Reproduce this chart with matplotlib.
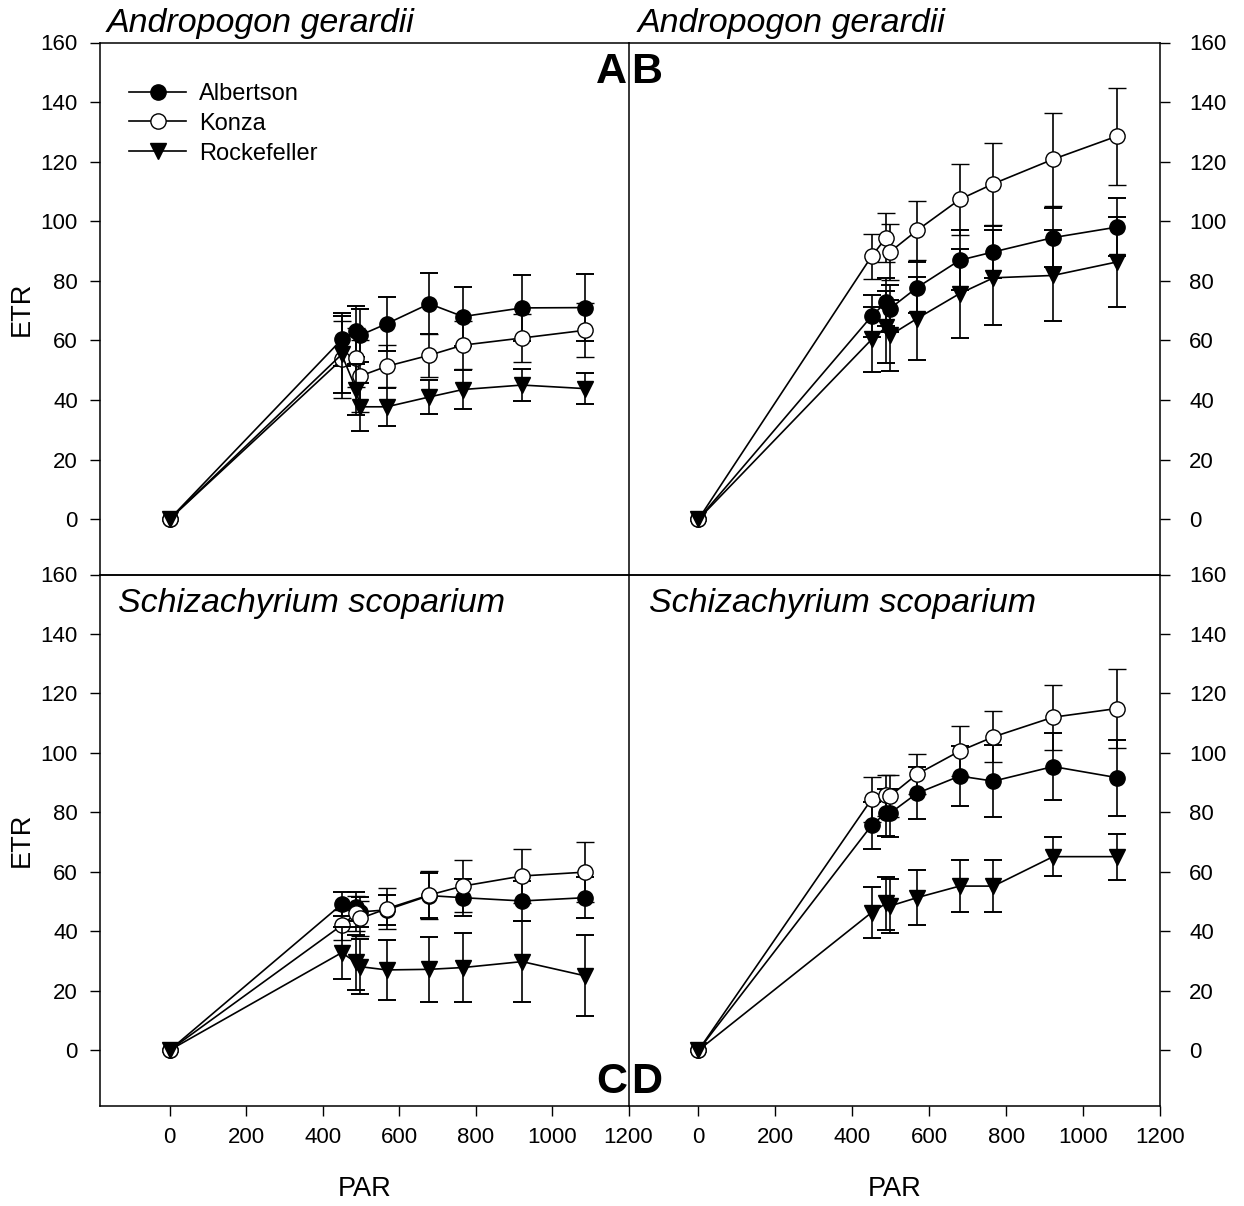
import matplotlib
matplotlib.use("Agg")
import matplotlib.pyplot as plt
from matplotlib.lines import Line2D

plt.rcParams['font.family'] = ['Liberation Sans', 'DejaVu Sans']

PAR = [0, 450, 488, 498, 568, 679, 767, 922, 1087]
series_names = ["Albertson", "Konza", "Rockefeller"]
panel_titles = ["Andropogon gerardii", "Andropogon gerardii",
                "Schizachyrium scoparium", "Schizachyrium scoparium"]
panel_letters = ["A", "B", "C", "D"]

# Panel A (Andropogon gerardii, left)
alb_A = [0, 60.3, 63.0, 61.7, 65.6, 72.3, 68.0, 70.9, 71.0]
alb_A_err = [0, 9, 8.5, 9, 9, 10.3, 10, 11, 11.3]
kon_A = [0, 53.6, 54.2, 48.0, 51.3, 55.0, 58.4, 60.8, 63.4]
kon_A_err = [0, 13, 10, 12, 7, 7.3, 8, 8, 9]
roc_A = [0, 55.3, 43.5, 37.7, 37.7, 41.0, 43.5, 45.0, 43.8]
roc_A_err = [0, 13, 8.6, 8, 6.3, 5.8, 6.6, 5.5, 5.2]

# Panel B (Andropogon gerardii, right)
alb_B = [0, 68.1, 72.9, 70.7, 77.7, 86.9, 89.7, 94.5, 98.0]
alb_B_err = [0, 7, 8, 8, 8.6, 10, 8.6, 10, 9.8]
kon_B = [0, 88.2, 94.5, 89.7, 96.9, 107.3, 112.6, 120.8, 128.5]
kon_B_err = [0, 7.6, 8.2, 9.5, 10, 11.8, 13.7, 15.6, 16.2]
roc_B = [0, 60.3, 64.5, 61.7, 67.3, 75.7, 81.0, 81.8, 86.3]
roc_B_err = [0, 11, 12, 12, 14, 15, 16, 15.4, 15.2]

# Panel C (Schizachyrium scoparium, left)
alb_C = [0, 49.1, 48.3, 46.5, 47.2, 52.0, 51.3, 50.2, 51.3]
alb_C_err = [0, 4, 5, 5, 5, 7.5, 6.2, 6.7, 7]
kon_C = [0, 42.0, 46.0, 44.3, 47.6, 52.2, 55.2, 58.6, 59.9]
kon_C_err = [0, 5, 6, 6, 6.8, 8, 8.7, 9.2, 10]
roc_C = [0, 32.8, 29.5, 28.1, 27.0, 27.2, 27.8, 29.8, 25.0]
roc_C_err = [0, 8.7, 9.2, 9.3, 10, 11, 11.7, 13.7, 13.6]

# Panel D (Schizachyrium scoparium, right)
alb_D = [0, 75.6, 79.9, 79.7, 86.4, 92.2, 90.5, 95.4, 91.7]
alb_D_err = [0, 7.8, 8, 8, 8.8, 10, 12, 11.4, 12.8]
kon_D = [0, 84.4, 85.7, 85.5, 92.8, 100.6, 105.4, 112.0, 114.9]
kon_D_err = [0, 7.5, 7, 7, 6.7, 8.4, 8.6, 11, 13.2]
roc_D = [0, 46.3, 49.4, 48.5, 51.3, 55.2, 55.2, 65.1, 65.1]
roc_D_err = [0, 8.6, 9, 9, 9.3, 8.8, 8.8, 6.6, 7.7]

x_ticks = [0, 200, 400, 600, 800, 1000, 1200]
y_ticks = [0, 20, 40, 60, 80, 100, 120, 140, 160]

panels = [
    [(alb_A, alb_A_err), (kon_A, kon_A_err), (roc_A, roc_A_err)],
    [(alb_B, alb_B_err), (kon_B, kon_B_err), (roc_B, roc_B_err)],
    [(alb_C, alb_C_err), (kon_C, kon_C_err), (roc_C, roc_C_err)],
    [(alb_D, alb_D_err), (kon_D, kon_D_err), (roc_D, roc_D_err)],
]

styles = [
    dict(marker='o', mfc='black', mec='black', ms=11),
    dict(marker='o', mfc='white', mec='black', ms=11, mew=1.0),
    dict(marker='v', mfc='black', mec='black', ms=11),
]

W, H = 1244, 1206
fig = plt.figure(figsize=(W / 100, H / 100), dpi=100)

def frac(x0, y0, x1, y1):
    return [x0 / W, 1 - y1 / H, (x1 - x0) / W, (y1 - y0) / H]

rects = [frac(100, 42.5, 628.5, 574.5), frac(628.5, 42.5, 1160, 574.5),
         frac(100, 574.5, 628.5, 1105.5), frac(628.5, 574.5, 1160, 1105.5)]

axes = []
for i, rect in enumerate(rects):
    ax = fig.add_axes(rect)
    ax.patch.set_visible(False)
    axes.append(ax)
    for j, (vals, errs) in enumerate(panels[i]):
        ax.errorbar(PAR, vals, yerr=errs, errorevery=(1, 1), color='black',
                    lw=1.2, elinewidth=1.2, capsize=6.5, capthick=1.4,
                    zorder=2 + j, **styles[j])
    ax.set_xlim(-182, 1200)
    ax.set_ylim(-18.6, 160)
    for s in ax.spines.values():
        s.set_linewidth(1.1)
    ax.tick_params(direction='out', length=7, width=1.0, labelsize=16)
    ax.tick_params(axis='x', pad=8.5)
    ax.set_yticks(y_ticks)
    ax.set_xticks(x_ticks)
    if i in (0, 2):
        ax.yaxis.set_ticks_position('left')
        ax.tick_params(axis='y', pad=9)
        ax.set_ylabel("ETR", fontsize=19.5, labelpad=4)
    else:
        ax.yaxis.set_ticks_position('right')
        ax.yaxis.set_label_position('right')
        ax.tick_params(axis='y', pad=14)
    if i in (0, 1):
        ax.tick_params(axis='x', bottom=False, labelbottom=False)
    else:
        ax.set_xlabel("PAR", fontsize=19.5, labelpad=20)
    if i in (1, 3):
        ax.spines['left'].set_visible(False)

# titles
axes[0].text(0.013, 1.02, panel_titles[0], transform=axes[0].transAxes,
             fontsize=24.5, style='italic', ha='left', va='baseline')
axes[1].text(0.017, 1.02, panel_titles[1], transform=axes[1].transAxes,
             fontsize=24.5, style='italic', ha='left', va='baseline')
axes[2].text(0.034, 0.93, panel_titles[2], transform=axes[2].transAxes,
             fontsize=24.5, style='italic', ha='left', va='baseline')
axes[3].text(0.039, 0.93, panel_titles[3], transform=axes[3].transAxes,
             fontsize=24.5, style='italic', ha='left', va='baseline')

# panel letters
fig.text(627 / W, 1 - 83 / H, panel_letters[0], fontsize=31, fontweight='bold',
         ha='right', va='baseline')
fig.text(631 / W, 1 - 83 / H, panel_letters[1], fontsize=31, fontweight='bold',
         ha='left', va='baseline')
fig.text(627 / W, 1 - 1093 / H, panel_letters[2], fontsize=31, fontweight='bold',
         ha='right', va='baseline')
fig.text(631 / W, 1 - 1093 / H, panel_letters[3], fontsize=31, fontweight='bold',
         ha='left', va='baseline')

handles = [Line2D([0], [0], color='black', lw=1.2, **styles[j]) for j in range(3)]
axes[0].legend(handles, series_names, loc='upper left',
               bbox_to_anchor=(0.0557, 0.924), frameon=False, fontsize=17,
               handlelength=2.4, handletextpad=0.55, labelspacing=0.33,
               borderpad=0, borderaxespad=0)

fig.savefig("out.png", dpi=100)
